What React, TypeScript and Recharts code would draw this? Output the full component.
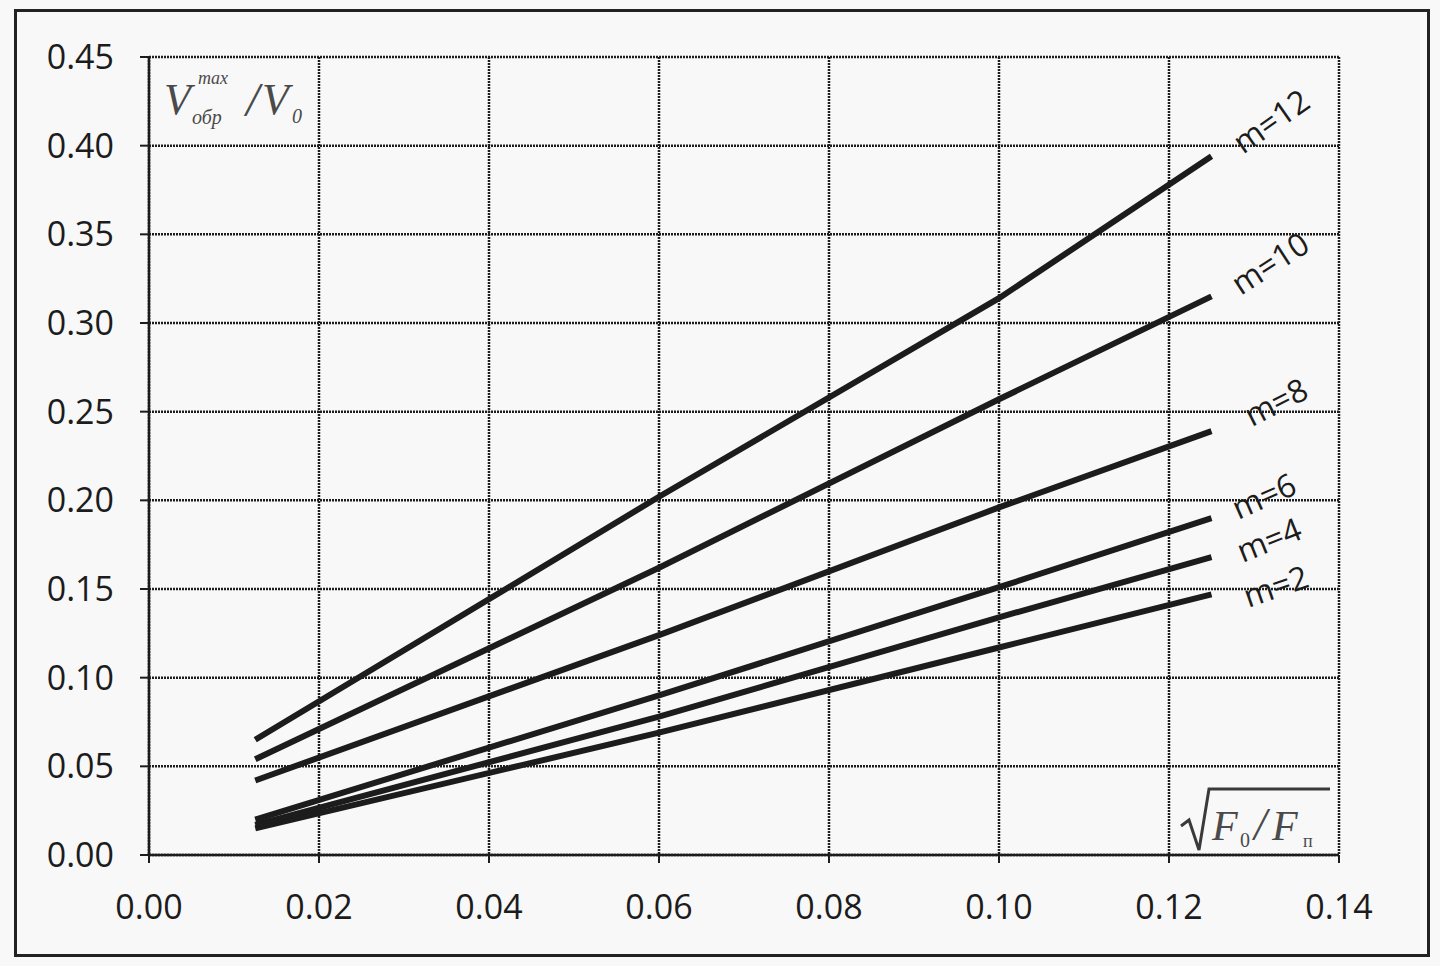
import React from "react";
import { LineChart, Line, XAxis, YAxis, CartesianGrid } from "recharts";

const xValues = [0.0125, 0.06, 0.1, 0.125];
const m2 = [0.015, 0.069, 0.117, 0.147];
const m4 = [0.017, 0.078, 0.134, 0.168];
const m6 = [0.02, 0.09, 0.151, 0.19];
const m8 = [0.042, 0.124, 0.196, 0.239];
const m10 = [0.054, 0.162, 0.257, 0.315];
const m12 = [0.065, 0.202, 0.314, 0.394];

const xTicks = [0, 0.02, 0.04, 0.06, 0.08, 0.1, 0.12, 0.14];
const yTicks = [0, 0.05, 0.1, 0.15, 0.2, 0.25, 0.3, 0.35, 0.4, 0.45];

const seriesNames = ["m=2", "m=4", "m=6", "m=8", "m=10", "m=12"];
const seriesValues = [m2, m4, m6, m8, m10, m12];
const labelOffsets = [
  { dx: 64, dy: -9, rot: -19 },
  { dx: 57, dy: -18, rot: -22 },
  { dx: 52, dy: -23, rot: -24 },
  { dx: 64, dy: -30, rot: -27 },
  { dx: 58, dy: -34, rot: -33 },
  { dx: 59, dy: -36, rot: -35 },
];

const data = xValues.map((x, i) => {
  const row: Record<string, number> = { x };
  seriesNames.forEach((n, s) => {
    row[n] = seriesValues[s][i];
  });
  return row;
});

const FONT = "'Open Sans', 'Noto Sans', sans-serif";
const INK = "#1c1c1c";

const makeLabel = (s: number) => (props: any) => {
  const { x, y, index } = props;
  if (index !== xValues.length - 1) return null;
  const o = labelOffsets[s];
  const cx = x + o.dx;
  const cy = y + o.dy;
  return (
    <text
      key={`lbl-${s}`}
      x={cx}
      y={cy}
      textAnchor="middle"
      dominantBaseline="central"
      transform={`rotate(${o.rot} ${cx} ${cy})`}
      fontFamily={FONT}
      fontSize={32}
      fill={INK}
    >
      {seriesNames[s]}
    </text>
  );
};

export default function App() {
  return (
    <div
      style={{
        position: "absolute",
        left: 0,
        top: 0,
        width: 1440,
        height: 966,
        background: "#f8f8f8",
      }}
    >
      <div
        style={{
          position: "absolute",
          left: 14,
          top: 9,
          width: 1410,
          height: 942,
          border: "3px solid #222",
        }}
      />
      <div style={{ position: "absolute", left: 0, top: 0 }}>
        <LineChart
          width={1440}
          height={966}
          data={data}
          margin={{ top: 57, right: 101, left: 0, bottom: 0 }}
        >
          <CartesianGrid
            stroke="#1e1e1e"
            strokeWidth={2.5}
            strokeDasharray="2 1"
            horizontalValues={yTicks}
            verticalValues={xTicks}
          />
          <XAxis
            dataKey="x"
            type="number"
            domain={[0, 0.14]}
            ticks={xTicks}
            tickFormatter={(v: number) => v.toFixed(2)}
            height={111}
            tickSize={8}
            tickMargin={32}
            axisLine={{ stroke: INK, strokeWidth: 2.5 }}
            tickLine={{ stroke: INK, strokeWidth: 2 }}
            tick={{ fill: INK, fontSize: 34, fontFamily: FONT }}
            interval={0}
            allowDataOverflow
          />
          <YAxis
            type="number"
            domain={[0, 0.45]}
            ticks={yTicks}
            tickFormatter={(v: number) => v.toFixed(2)}
            width={149}
            tickSize={9}
            tickMargin={26}
            axisLine={{ stroke: INK, strokeWidth: 2.5 }}
            tickLine={{ stroke: INK, strokeWidth: 2 }}
            tick={{ fill: INK, fontSize: 34, fontFamily: FONT }}
            interval={0}
            allowDataOverflow
          />
          {seriesNames.map((n, s) => (
            <Line
              key={n}
              dataKey={n}
              type="linear"
              stroke={INK}
              strokeWidth={6}
              dot={false}
              activeDot={false}
              isAnimationActive={false}
              label={makeLabel(s)}
            />
          ))}
        </LineChart>
      </div>
      <svg
        width={1440}
        height={966}
        style={{ position: "absolute", left: 0, top: 0, pointerEvents: "none" }}
      >
        <g fill="#4a4a4a" fontFamily="'Liberation Serif', 'DejaVu Serif', serif" fontStyle="italic">
          <text x={164} y={114} fontSize={44}>V</text>
          <text x={198} y={84} fontSize={18}>max</text>
          <text x={192} y={124} fontSize={20}>обр</text>
          <text x={246} y={116} fontSize={48}>/</text>
          <text x={262} y={114} fontSize={44}>V</text>
          <text x={292} y={123} fontSize={20}>0</text>
        </g>
        <g fill="#4a4a4a" fontFamily="'Liberation Serif', 'DejaVu Serif', serif">
          <polyline
            points="1181,826 1189,820 1199,850 1209,789 1330,789"
            fill="none"
            stroke="#3a3a3a"
            strokeWidth={3}
          />
          <text x={1212} y={840} fontSize={42} fontStyle="italic">F</text>
          <text x={1240} y={847} fontSize={20}>0</text>
          <text x={1254} y={840} fontSize={46} fontStyle="italic">/</text>
          <text x={1272} y={840} fontSize={42} fontStyle="italic">F</text>
          <text x={1303} y={847} fontSize={18}>п</text>
        </g>
      </svg>
    </div>
  );
}
